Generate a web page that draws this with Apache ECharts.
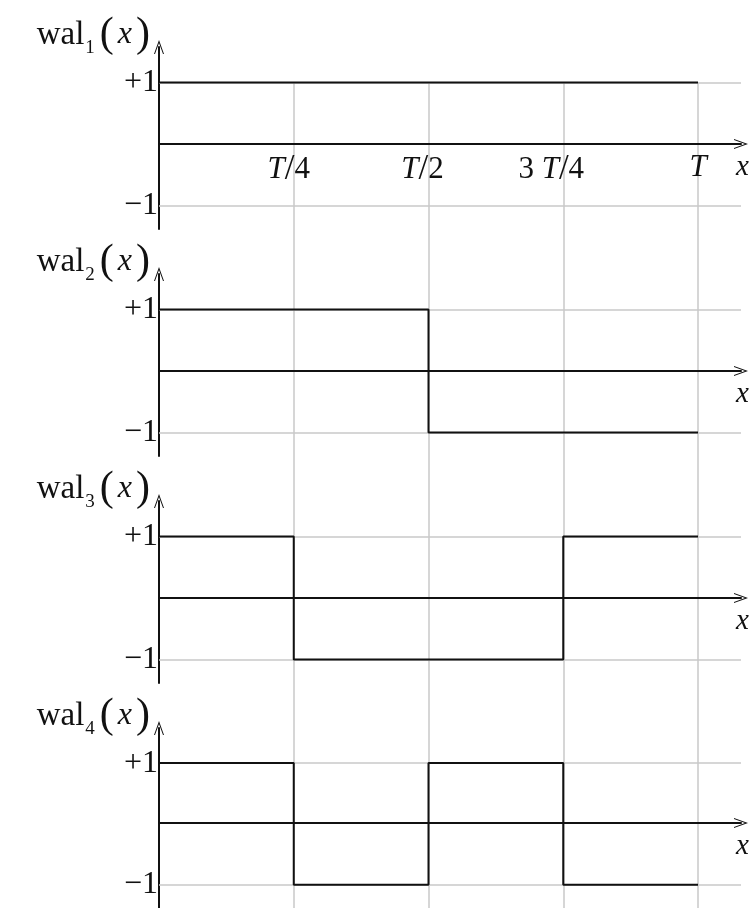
<!DOCTYPE html>
<html>
<head>
<meta charset="utf-8">
<script src="https://cdn.jsdelivr.net/npm/echarts@6/dist/echarts.min.js"></script>
<style>
  html, body { margin: 0; padding: 0; background: #fff; }
  #chart { width: 756px; height: 908px; }
</style>
</head>
<body>
<div id="chart"></div>
<script>
// x is measured in quarters of the period T
const quarters = [0, 1, 2, 3, 4];
const wal1 = [1, 1, 1, 1];
const wal2 = [1, 1, -1, -1];
const wal3 = [1, -1, -1, 1];
const wal4 = [1, -1, 1, -1];
const walsh = [wal1, wal2, wal3, wal4];
const levelLabels = ['+1', '\u22121'];
const levels = [1, -1];
const tickLabels = ['T/4', 'T/2', '3T/4', 'T'];

// layout
const zeroY = [144, 371, 598, 825];
const unitY = 61.5;
const below = 85;
const left = 159;
const plotW = 582;
const xMax = plotW / 134.75;
const serif = '"Liberation Serif", "DejaVu Serif", serif';

const arrow = 'path://M5,0 L10,14 L9,14 L5,3 L1,14 L0,14 Z';

const tickRich = {
    t: { fontFamily: serif, fontSize: 31, fontStyle: 'italic', color: '#111' },
    n: { fontFamily: serif, fontSize: 31, color: '#111' },
    d: { fontFamily: serif, fontSize: 35, color: '#111' },
    g: { width: 10 }, g2: { width: 12 }, g3: { width: 24 }
};
const tickFmt = {
    'T/4': '{t|T}{d|/}{n|4}{g| }',
    'T/2': '{t|T}{d|/}{n|2}{g2| }',
    '3T/4': '{n|3 }{t|T}{d|/}{n|4}{g3| }',
    'T': '{t|T}'
};

const nameRich = {
    w: { fontFamily: serif, fontSize: 33, color: '#111', lineHeight: 46, verticalAlign: 'middle' },
    s: { fontFamily: serif, fontSize: 19, color: '#111', lineHeight: 28, verticalAlign: 'bottom', padding: [0, 5, 0, 1] },
    p: { fontFamily: serif, fontSize: 42, color: '#111', lineHeight: 46, verticalAlign: 'middle' },
    x: { fontFamily: serif, fontSize: 32, fontStyle: 'italic', color: '#111', lineHeight: 46, verticalAlign: 'middle', padding: [0, 4, 0, 4] }
};

const grid = [{ left: left, width: plotW, top: 83, bottom: 0 }];
const xAxis = [{
    gridIndex: 0, type: 'value', min: 0, max: xMax, interval: 1,
    axisLine: { show: false }, axisTick: { show: false }, axisLabel: { show: false },
    splitLine: { show: true, showMinLine: false, showMaxLine: false, lineStyle: { color: '#c8c8c8', width: 1.5 } }
}];
const yAxis = [{ gridIndex: 0, type: 'value', show: false, min: 0, max: 1 }];
const series = [];

walsh.forEach((vals, k) => {
    const g = k + 1;
    grid.push({ left: left, width: plotW, top: zeroY[k] - 97, height: 97 + below });
    xAxis.push({
        gridIndex: g, type: 'value', min: 0, max: xMax, interval: 1,
        position: 'bottom', offset: -below,
        name: 'x', nameLocation: 'end', nameGap: -5,
        nameTextStyle: { fontFamily: serif, fontSize: 29, fontStyle: 'italic', color: '#111', align: 'left', verticalAlign: 'top', padding: [9, 0, 0, 0] },
        axisLine: { onZero: false, symbol: ['none', arrow], symbolSize: [10, 14], lineStyle: { color: '#111', width: 2 } },
        axisTick: { show: false },
        axisLabel: {
            show: k === 0, margin: 8, showMinLabel: false, showMaxLabel: false,
            formatter: v => tickFmt[tickLabels[Math.round(v) - 1]] || '',
            rich: tickRich
        },
        splitLine: { show: false }
    });
    yAxis.push({
        gridIndex: g, type: 'value', min: -below / unitY, max: 97 / unitY,
        name: '{w|wal}{s|' + (k + 1) + '}{p|(}{x|x}{p|)}', nameLocation: 'end', nameGap: 12,
        nameTextStyle: { align: 'right', verticalAlign: 'middle', padding: [0, 9, 0, 0], rich: nameRich },
        axisLine: { symbol: ['none', arrow], symbolSize: [10, 14], lineStyle: { color: '#111', width: 2 } },
        axisTick: { show: false }, axisLabel: { show: false }, splitLine: { show: false }
    });
    const pts = quarters.map((q, i) => [q, vals[Math.min(i, vals.length - 1)]]);
    series.push({
        type: 'line', xAxisIndex: g, yAxisIndex: g, step: 'end', data: pts,
        symbol: 'none', lineStyle: { color: '#111', width: 2 }, z: 3,
        markLine: {
            silent: true, symbol: 'none', z: 1, animation: false,
            lineStyle: { color: '#c8c8c8', width: 1.5, type: 'solid' },
            label: { position: 'start', distance: 1, fontFamily: serif, fontSize: 32, color: '#111', formatter: p => p.name },
            data: levels.map((lv, i) => ({ yAxis: lv, name: levelLabels[i] }))
        }
    });
});

const chart = echarts.init(document.getElementById('chart'), null, { renderer: 'canvas' });
chart.setOption({
    animation: false,
    backgroundColor: '#fff',
    grid, xAxis, yAxis, series
});
</script>
</body>
</html>
